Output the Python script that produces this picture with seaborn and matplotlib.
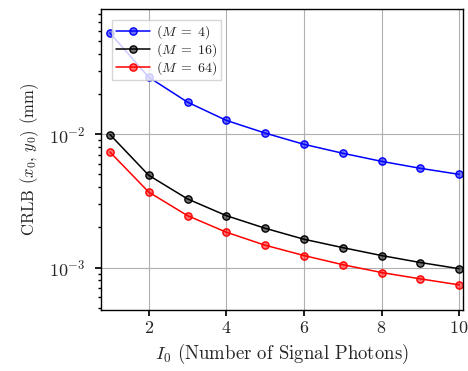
import numpy as np
import pandas as pd
import seaborn as sns
import matplotlib
matplotlib.use("Agg")
import matplotlib.pyplot as plt

photons = [1, 2, 3, 4, 5, 6, 7, 8, 9, 10]
crlb_m4 = [0.0575, 0.0268, 0.0174, 0.0127, 0.0102, 0.0084, 0.0072, 0.00626, 0.00555, 0.00500]
crlb_m16 = [0.00995, 0.00492, 0.00327, 0.00245, 0.00197, 0.00163, 0.00141, 0.00123, 0.00109, 0.00098]
crlb_m64 = [0.00736, 0.00368, 0.00245, 0.00184, 0.00147, 0.00123, 0.00105, 0.000917, 0.000822, 0.000741]
labels = [r"($M\;=\;4$)", r"($M\;=\;16$)", r"($M\;=\;64$)"]
colors = ["blue", "black", "red"]

sns.set_theme(style="ticks")
plt.rcParams.update({
    "font.family": "serif",
    "font.serif": ["cmr10", "DejaVu Serif"],
    "mathtext.fontset": "cm",
    "axes.formatter.use_mathtext": True,
    "axes.unicode_minus": False,
})

rows = []
for lab, vals in zip(labels, [crlb_m4, crlb_m16, crlb_m64]):
    for x, v in zip(photons, vals):
        rows.append({"I0": x, "crlb": v, "series": lab})
df = pd.DataFrame(rows)

fig = plt.figure(figsize=(4.68, 3.71), dpi=100)
ax = fig.add_axes([101/468, 1 - 310/371, (463 - 101)/468, (310 - 9)/371])

for lab, col in zip(labels, colors):
    sub = df[df.series == lab]
    sns.lineplot(data=sub, x="I0", y="crlb", ax=ax, color=col, lw=1.1,
                 marker="o", markersize=5.2, markerfacecolor=matplotlib.colors.to_rgba(col, 0.55),
                 markeredgecolor=col, markeredgewidth=1.0, label=lab)

ax.set_yscale("log")
ax.set_xlim(0.77, 10.1)
ax.set_ylim(4.8e-4, 8.7e-2)
ax.set_xticks([2, 4, 6, 8, 10])
ax.grid(True, which="major", color="#b0b0b0", lw=0.8)
ax.tick_params(axis="both", which="major", labelsize=13, direction="out", length=4, color="black")
ax.tick_params(axis="y", which="major", pad=7)
ax.tick_params(axis="y", which="minor", direction="out", length=2.5, color="black")
for s in ax.spines.values():
    s.set_color("black")
    s.set_linewidth(1.0)
ax.set_xlabel(r"$I_0$ (Number of Signal Photons)", fontsize=13.5)
ax.set_ylabel(r"CRLB $(x_0,\,y_0)$ (mm)", fontsize=12, labelpad=6)
leg = ax.legend(loc="upper left", fontsize=10, frameon=True, fancybox=False,
                borderpad=0.25, handlelength=2.5, labelspacing=0.0, borderaxespad=0.8,
                handletextpad=0.4)
leg.get_frame().set_edgecolor("#cccccc")
leg.get_frame().set_alpha(0.8)

fig.savefig("out.png", dpi=100)
